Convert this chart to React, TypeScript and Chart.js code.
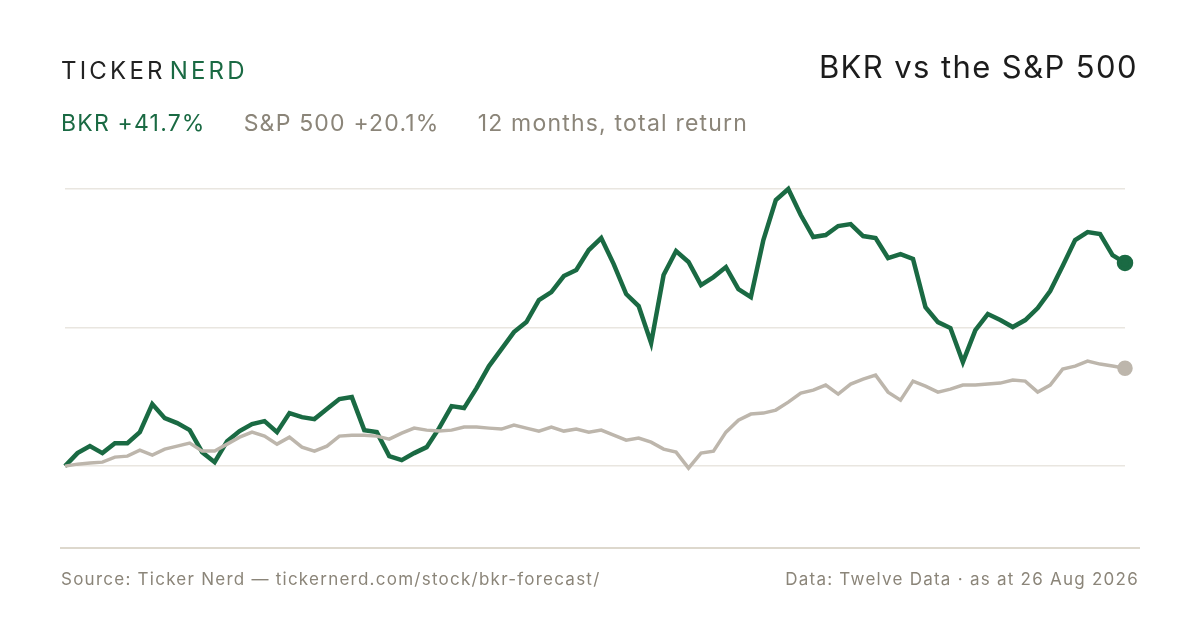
import React, { useEffect, useRef } from "react";
import { Chart, registerables } from "chart.js";
Chart.register(...registerables);

const labels: number[] = Array.from({ length: 86 }, (_, i) => i);
const bkr: number[] = [0,2.67,4.11,2.67,4.72,4.72,6.98,12.73,9.85,8.83,7.39,2.87,0.82,5.13,7.19,8.62,9.24,6.98,10.88,10.06,9.65,11.7,13.76,14.17,7.39,6.98,2.05,1.23,2.67,3.9,7.8,12.32,11.91,16.01,20.53,24.02,27.51,29.56,34.08,35.72,39.01,40.24,44.35,46.81,41.47,35.31,32.85,25.25,39.21,44.14,41.88,37.16,38.8,40.85,36.34,34.7,46.4,54.61,56.87,51.53,47.01,47.42,49.27,49.68,47.22,46.81,42.7,43.52,42.5,32.64,29.56,28.33,21.35,27.92,31.21,29.97,28.54,29.97,32.44,35.93,41.06,46.4,48.04,47.63,43.32,41.7];
const spx: number[] = [0,0.41,0.62,0.82,1.85,2.05,3.28,2.26,3.49,4.11,4.72,3.08,3.08,4.52,5.95,6.98,6.16,4.52,5.95,3.9,3.08,4.11,6.16,6.36,6.36,6.16,5.54,6.77,7.8,7.39,7.19,7.39,8.01,8.01,7.8,7.6,8.42,7.8,7.19,8.01,7.19,7.6,6.98,7.39,6.36,5.34,5.75,4.93,3.49,2.87,-0.41,2.67,3.08,6.98,9.44,10.68,10.88,11.5,13.14,14.99,15.6,16.63,14.78,16.83,17.86,18.68,15.19,13.55,17.45,16.42,15.19,15.81,16.63,16.63,16.83,17.04,17.66,17.45,15.19,16.63,19.91,20.53,21.56,20.94,20.53,20.1];

const GREEN = "#1a6a43";
const GRAY = "#bdb6ac";
const MUTED = "#8b8579";
const FONT = "Inter, 'Noto Sans', sans-serif";

export default function App() {
  const ref = useRef<HTMLCanvasElement>(null);
  useEffect(() => {
    const max = Math.max(...bkr);
    const last = labels.length - 1;
    const chart = new Chart(ref.current!, {
      type: "line",
      data: {
        labels,
        datasets: [
          { data: spx, borderColor: GRAY, backgroundColor: GRAY, borderWidth: 3.5, tension: 0,
            pointRadius: (c: any) => (c.dataIndex === last ? 6 : 0), clip: false as any },
          { data: bkr, borderColor: GREEN, backgroundColor: GREEN, borderWidth: 4.5, tension: 0,
            pointRadius: (c: any) => (c.dataIndex === last ? 6 : 0), clip: false as any },
        ],
      },
      options: {
        animation: false,
        responsive: false,
        devicePixelRatio: 1,
        layout: { padding: { left: 65, right: 75, top: 189, bottom: 82 } },
        plugins: { legend: { display: false }, tooltip: { enabled: false } },
        scales: {
          x: { display: false },
          y: {
            min: -16.8, max: max,
            afterBuildTicks: (s: any) => { s.ticks = [0, max / 2, max].map((v) => ({ value: v })); },
            ticks: { display: false },
            border: { display: false },
            grid: { color: "#e9e6e0", lineWidth: 1.5, drawTicks: false },
          },
        },
      },
    });
    return () => chart.destroy();
  }, []);

  return (
    <div style={{ position: "absolute", left: 0, top: 0, width: 1200, height: 630, background: "#fff", fontFamily: FONT, overflow: "hidden" }}>
      <canvas ref={ref} width={1200} height={630} style={{ position: "absolute", left: 0, top: 0 }} />
      <div style={{ position: "absolute", left: 61, top: 56, fontSize: 24, letterSpacing: 3.2, color: "#222" }}>
        TICKER<span style={{ marginLeft: 4, color: GREEN }}>NERD</span>
      </div>
      <div style={{ position: "absolute", right: 62, top: 48, fontSize: 31, letterSpacing: 1.4, color: "#1c1c1c" }}>BKR vs the S&amp;P 500</div>
      <div style={{ position: "absolute", left: 61, top: 109, fontSize: 23, letterSpacing: 1.2, color: MUTED, whiteSpace: "nowrap" }}>
        <span style={{ color: GREEN }}>BKR +41.7%</span>
        <span style={{ marginLeft: 38 }}>S&amp;P 500 +20.1%</span>
        <span style={{ marginLeft: 38 }}>12 months, total return</span>
      </div>
      <div style={{ position: "absolute", left: 60, top: 547, width: 1080, height: 2, background: "#ddd8cd" }} />
      <div style={{ position: "absolute", left: 61, top: 569, fontSize: 17, letterSpacing: 1.25, color: MUTED }}>Source: Ticker Nerd — tickernerd.com/stock/bkr-forecast/</div>
      <div style={{ position: "absolute", right: 61, top: 569, fontSize: 17, letterSpacing: 1.25, color: MUTED }}>Data: Twelve Data · as at 26 Aug 2026</div>
    </div>
  );
}
